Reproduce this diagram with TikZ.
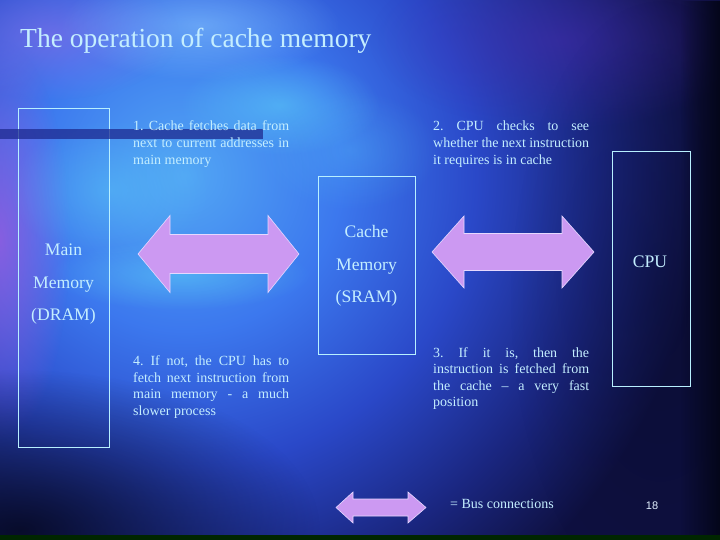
\documentclass[tikz,border=0pt]{standalone}
\usepackage{fontspec}
\setmainfont{Liberation Serif}
\newfontfamily\numfont{Liberation Sans}
\usetikzlibrary{fadings}
\frenchspacing
\definecolor{txt}{HTML}{C4EEFF}
\definecolor{boxline}{HTML}{B8F0FF}
\definecolor{busfill}{HTML}{CC99F2}
\definecolor{busline}{HTML}{E6D8FF}
\definecolor{bgA}{HTML}{52A6F4}
\definecolor{bgB}{HTML}{3C78EE}
\definecolor{bgC}{HTML}{2A48C8}
\definecolor{bgD}{HTML}{1A2680}
\definecolor{bgE}{HTML}{0E1040}
\definecolor{violetblob}{HTML}{9A5CE0}
\definecolor{lilacblob}{HTML}{8A70EA}
\definecolor{purpleblob}{HTML}{4A2CB0}
\definecolor{cyanblob}{HTML}{5CD0F8}
\definecolor{lightblob}{HTML}{9CD8FF}
\definecolor{darkblob}{HTML}{04061A}
\definecolor{barcol}{HTML}{1E2A90}
\definecolor{numcol}{HTML}{E2F0FF}
\pgfdeclareradialshading{bgshade}{\pgfpointorigin}{color(0bp)=(bgA); color(7.5bp)=(bgB); color(14bp)=(bgC); color(20bp)=(bgD); color(25bp)=(bgE); color(50bp)=(bgE)}
\tikzfading[name=softblob, inner color=transparent!0, outer color=transparent!100]
\tikzfading[name=darkright, left color=transparent!100, right color=transparent!0]
\newcommand\jline[1]{\makebox[156pt][s]{#1}}
\begin{document}
\begin{tikzpicture}[x=1pt,y=-1pt,
  blob/.style={path fading=softblob},
  boxnode/.style={draw=boxline, line width=0.9pt, inner sep=0pt},
  label/.style={anchor=base, inner sep=0pt, text=txt, font=\fontsize{17.6}{20}\selectfont},
  para/.style={anchor=base west, inner sep=0pt, text=txt, font=\fontsize{14}{17}\selectfont},
  bus/.style={fill=busfill, draw=busline, line width=0.6pt, line join=miter}]
\useasboundingbox (0,0) rectangle (720,540);
% background
\begin{scope}
\clip (0,0) rectangle (720,540);
\fill[bgE] (0,0) rectangle (720,540);
\shade[shading=bgshade] (185,175) circle (520pt);
\fill[blob, violetblob, opacity=0.8] (0,240) ellipse (70pt and 200pt);
\fill[blob, lilacblob, opacity=0.6] (50,35) ellipse (130pt and 65pt);
\fill[blob, lightblob, opacity=0.45] (200,25) ellipse (140pt and 55pt);
\fill[blob, cyanblob, opacity=0.55] (280,105) ellipse (100pt and 50pt);
\fill[blob, cyanblob, opacity=0.5] (180,275) ellipse (130pt and 35pt);
\fill[blob, cyanblob, opacity=0.4] (110,190) ellipse (100pt and 70pt);
\fill[blob, cyanblob, opacity=0.25] (350,150) ellipse (90pt and 60pt);
\fill[blob, purpleblob, opacity=0.5] (560,40) ellipse (190pt and 90pt);
\fill[blob, darkblob, opacity=0.85] (20,530) ellipse (300pt and 160pt);
\fill[blob, darkblob, opacity=0.25] (660,300) ellipse (150pt and 300pt);
\fill[darkblob, path fading=darkright] (680,0) rectangle (720,540);
\fill[black!85!green] (0,535) rectangle (720,540);
\end{scope}
% title
\node[anchor=base west, inner sep=0pt, text=txt, font=\fontsize{27.5}{30}\selectfont] (title) at (20,48) {The operation of cache memory};
% boxes
\node[boxnode, minimum width=91pt, minimum height=339pt] (main) at (63.5,277.5) {};
\node[boxnode, minimum width=97pt, minimum height=178pt] (cache) at (366.5,265) {};
\node[boxnode, minimum width=78pt, minimum height=235pt] (cpu) at (651,268.5) {};
\fill[barcol, opacity=0.75] (0,129) rectangle (263,139);
% box labels
\node[label] (mainA) at (63.5,255) {Main};
\node[label] (mainB) at (63.5,288) {Memory};
\node[label] (mainC) at (63.5,320) {(DRAM)};
\node[label] (cacheA) at (366.5,237) {Cache};
\node[label] (cacheB) at (366.5,270) {Memory};
\node[label] (cacheC) at (366.5,302) {(SRAM)};
\node[label] (cpuA) at (650,267) {CPU};
% bus arrows
\draw[bus] (138,254) -- (170,215.5) -- (170,234.5) -- (268,234.5) -- (268,215.5) -- (299,254)
  -- (268,292.5) -- (268,273.5) -- (170,273.5) -- (170,292.5) -- cycle;
\draw[bus] (432,252) -- (464,216) -- (464,233.5) -- (562,233.5) -- (562,216) -- (594,252)
  -- (562,288) -- (562,270.5) -- (464,270.5) -- (464,288) -- cycle;
\draw[bus] (336,507.5) -- (353,492) -- (353,499) -- (408,499) -- (408,492) -- (426,507.5)
  -- (408,523) -- (408,516) -- (353,516) -- (353,523) -- cycle;
% paragraphs
\node[para] (p1a) at (133,131) {\jline{1. Cache fetches data from}};
\node[para] (p1b) at (133,148) {\jline{next to current addresses in}};
\node[para] (p1c) at (133,165) {main memory};
\node[para] (p2a) at (433,131) {\jline{2. CPU checks to see}};
\node[para] (p2b) at (433,148) {\jline{whether the next instruction}};
\node[para] (p2c) at (433,165) {it requires is in cache};
\node[para] (p3a) at (433,357) {\jline{3. If it is, then the}};
\node[para] (p3b) at (433,373) {\jline{instruction is fetched from}};
\node[para] (p3c) at (433,390) {\jline{the cache – a very fast}};
\node[para] (p3d) at (433,406) {position};
\node[para] (p4a) at (133,365) {\jline{4. If not, the CPU has to}};
\node[para] (p4b) at (133,382) {\jline{fetch next instruction from}};
\node[para] (p4c) at (133,398) {\jline{main memory -  a much}};
\node[para] (p4d) at (133,415) {slower process};
\node[para] (buslabel) at (450,508) {= Bus connections};
\node[anchor=base, inner sep=0pt, text=numcol, font=\numfont\fontsize{11}{13}\selectfont] (pagenum) at (652,509) {18};
\end{tikzpicture}
\end{document}
